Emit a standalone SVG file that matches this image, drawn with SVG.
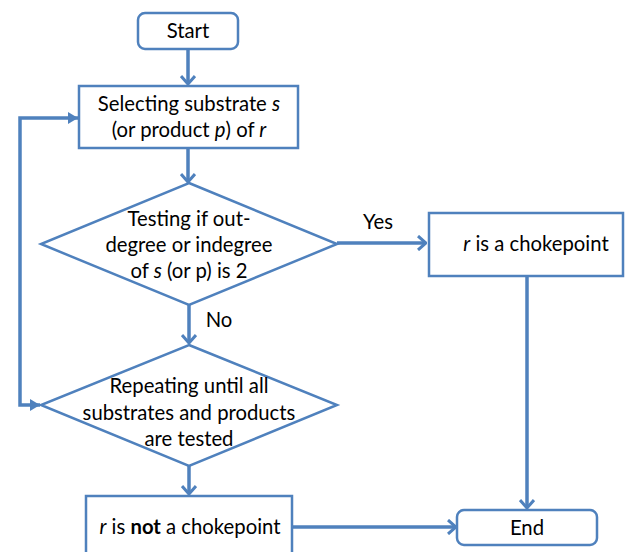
<svg xmlns="http://www.w3.org/2000/svg" width="625" height="552" viewBox="0 0 625 552">
<style>
.shape{fill:#fff;stroke:#4f81bd;stroke-width:2.5}
.conn{fill:none;stroke:#4f81bd;stroke-width:3.5}
text{font-family:Lato,"Liberation Sans",sans-serif;font-size:20.3px;fill:#000;text-anchor:middle}
</style>
<defs>
<marker id="v" viewBox="0 0 10 16" refX="9" refY="8" markerWidth="10" markerHeight="16" markerUnits="userSpaceOnUse" orient="auto">
<path d="M1,1 L9,8 L1,15" fill="none" stroke="#4f81bd" stroke-width="3"/>
</marker>
<marker id="tri" viewBox="0 0 10 12" refX="10" refY="6" markerWidth="10" markerHeight="12" markerUnits="userSpaceOnUse" orient="auto-start-reverse">
<path d="M0,0 L10,6 L0,12 Z" fill="#4f81bd"/>
</marker>
</defs>
<g id="connectors">
<path class="conn" d="M188,49 V84" marker-end="url(#v)"/>
<path class="conn" d="M188,148 V182" marker-end="url(#v)"/>
<path class="conn" d="M337,243 H426" marker-end="url(#v)"/>
<path class="conn" d="M189,305 V343" marker-end="url(#v)"/>
<path class="conn" d="M189,466 V494" marker-end="url(#v)"/>
<path class="conn" d="M527,276 V508" marker-end="url(#v)"/>
<path class="conn" d="M292,527 H456" marker-end="url(#v)"/>
<path class="conn" d="M40,405 H20 V118 H78" marker-start="url(#tri)" marker-end="url(#tri)"/>
</g>
<g id="start">
<rect class="shape" x="138" y="13" width="100" height="36" rx="7"/>
<text x="188" y="38">Start</text>
</g>
<g id="select">
<rect class="shape" x="79" y="86" width="219" height="62"/>
<text x="189" y="111">Selecting substrate <tspan font-style="italic">s</tspan></text>
<text x="189" y="137">(or product <tspan font-style="italic">p</tspan>) of <tspan font-style="italic">r</tspan></text>
</g>
<g id="test">
<polygon class="shape" points="189,183 337,244 189,305 41,244"/>
<text x="189" y="226">Testing if out-</text>
<text x="189" y="252">degree or indegree</text>
<text x="189" y="278">of <tspan font-style="italic">s</tspan> (or p) is 2</text>
</g>
<g id="choke">
<rect class="shape" x="429" y="213" width="194" height="63"/>
<text x="536" y="251"><tspan font-style="italic">r</tspan> is a chokepoint</text>
</g>
<g id="repeat">
<polygon class="shape" points="189,345 337,405 189,466 41,405"/>
<text x="189" y="393">Repeating until all</text>
<text x="189" y="420">substrates and products</text>
<text x="189" y="446">are tested</text>
</g>
<g id="notchoke">
<rect class="shape" x="86" y="496" width="206" height="62"/>
<text x="190" y="534"><tspan font-style="italic">r</tspan> is <tspan font-weight="bold">not</tspan> a chokepoint</text>
</g>
<g id="end">
<rect class="shape" x="457" y="510" width="140" height="35" rx="7"/>
<text x="527" y="535">End</text>
</g>
<g id="labels">
<text x="378" y="229">Yes</text>
<text x="219" y="327">No</text>
</g>
</svg>
